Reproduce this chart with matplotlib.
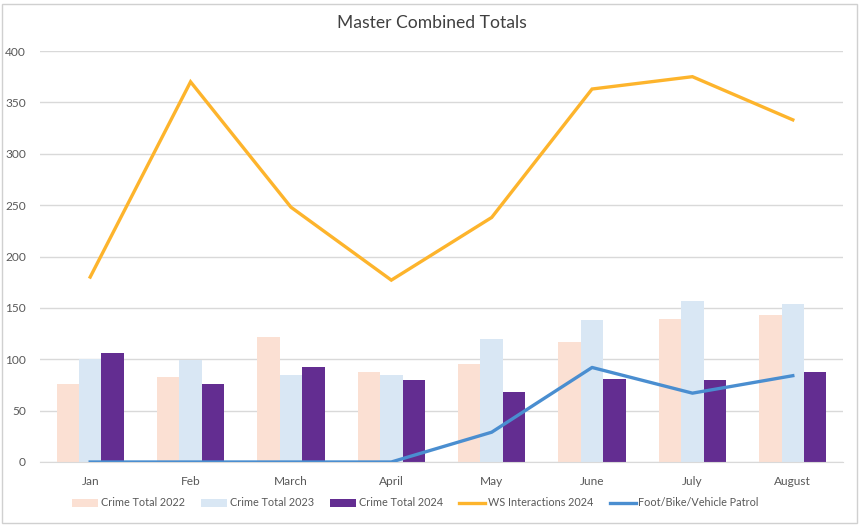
import numpy as np
import matplotlib.pyplot as plt
from matplotlib.patches import Rectangle

plt.rcParams['font.family'] = ['Lato', 'DejaVu Sans']

months = ['Jan', 'Feb', 'March', 'April', 'May', 'June', 'July', 'August']
crime_2022 = [76, 83, 122, 88, 95, 117, 139, 143]
crime_2023 = [100, 99, 85, 85, 120, 138, 157, 154]
crime_2024 = [106, 76, 92, 80, 68, 81, 80, 88]
ws_2024 = [180, 370, 248, 177, 238, 363, 375, 333]
patrol = [0, 0, 0, 0, 29, 92, 67, 84]

fig = plt.figure(figsize=(8.61, 5.27), dpi=100)
# chart border
fig.patches.append(Rectangle((2 / 861, 4 / 527), 855 / 861, 519 / 527, transform=fig.transFigure,
                             fill=False, edgecolor='#D0D0D0', linewidth=1))

ax = fig.add_axes([40 / 861, 1 - 462 / 527, 803 / 861, 411 / 527])
x = np.arange(len(months))
w = 0.223

b1 = ax.bar(x - w, crime_2022, w, color='#FBE0D3', label='Crime Total 2022', zorder=2)
b2 = ax.bar(x, crime_2023, w, color='#D9E7F4', label='Crime Total 2023', zorder=2)
b3 = ax.bar(x + w, crime_2024, w, color='#632D91', label='Crime Total 2024', zorder=2)
l1, = ax.plot(x, ws_2024, color='#FDB42C', lw=2.4, label='WS Interactions 2024', zorder=3,
              solid_joinstyle='miter')
l2, = ax.plot(x, patrol, color='#4A8ED0', lw=2.4, label='Foot/Bike/Vehicle Patrol', zorder=3)

ax.set_xlim(-0.5, 7.5)
ax.set_ylim(0, 400)
ax.set_yticks(np.arange(0, 401, 50))
ax.set_xticks(x)
ax.set_xticklabels(months)
ax.grid(axis='y', color='#D9D9D9', lw=1, zorder=0)
for s in ['top', 'right', 'left']:
    ax.spines[s].set_visible(False)
ax.spines['bottom'].set_color('#D9D9D9')
ax.tick_params(axis='both', length=0, labelsize=8.6, colors='#595959')
ax.tick_params(axis='y', pad=10)
ax.tick_params(axis='x', pad=10)

fig.text(0.502, 1 - 23 / 527, 'Master Combined Totals', ha='center', va='center',
         fontsize=12.6, color='#404040')

handles = [b1, b2, b3, l1, l2]
fig.legend(handles, [h.get_label() for h in handles], loc='center',
           bbox_to_anchor=(0.4825, 1 - 503 / 527), ncol=5, frameon=False,
           fontsize=7.8, labelcolor='#595959', handlelength=2.4, handleheight=0.7,
           handletextpad=0.25, columnspacing=1.5)

fig.savefig('out.png', dpi=100)
